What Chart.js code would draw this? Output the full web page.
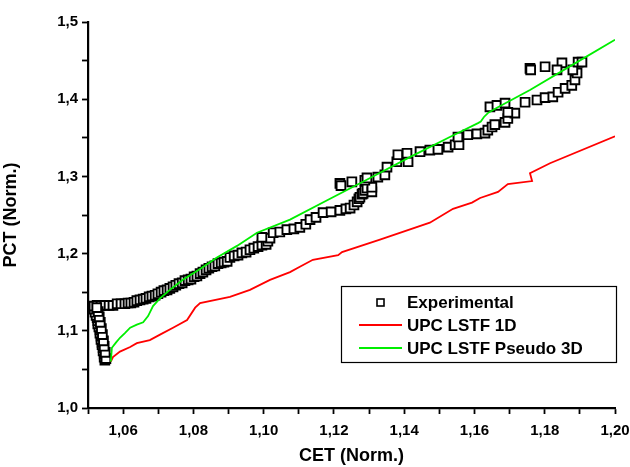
<!DOCTYPE html>
<html>
<head>
<meta charset="utf-8">
<title>PCT vs CET</title>
<script src="https://cdn.jsdelivr.net/npm/chart.js@4.4.1/dist/chart.umd.min.js"></script>
<style>
    html, body { margin: 0; padding: 0; background: #ffffff; }
    #chart-wrap { width: 630px; height: 467px; }
</style>
</head>
<body>
<div id="chart-wrap"><canvas id="pct-chart" width="630" height="467"></canvas></div>
<script>
// Experimental points (CET, PCT)
const expX = [
    1.0548, 1.0546, 1.0546, 1.0543, 1.0543, 1.0540, 1.0540, 1.0537, 1.0537, 1.0534,
    1.0534, 1.0531, 1.0528, 1.0528, 1.0526, 1.0523, 1.0520, 1.0517, 1.0517,
    1.0526, 1.0537, 1.0548, 1.0560, 1.0571, 1.0583, 1.0594, 1.0605, 1.0614, 1.0622,
    1.0631, 1.0639, 1.0648, 1.0657, 1.0665, 1.0674, 1.0682, 1.0691, 1.0699, 1.0708,
    1.0716, 1.0725, 1.0733, 1.0742, 1.0750, 1.0759, 1.0768, 1.0776, 1.0785, 1.0793,
    1.0802, 1.0810, 1.0819, 1.0827, 1.0836, 1.0844, 1.0853, 1.0861, 1.0870, 1.0879,
    1.0887, 1.0896, 1.0904, 1.0916, 1.0927, 1.0938, 1.0950, 1.0961, 1.0972, 1.0984,
    1.0995, 1.1007, 1.1012, 1.1018, 1.0995, 1.1027, 1.1046, 1.1066, 1.1086, 1.1103,
    1.1120, 1.1132, 1.1149, 1.1169, 1.1192, 1.1217, 1.1234, 1.1246, 1.1257, 1.1266,
    1.1271, 1.1274, 1.1280, 1.1283, 1.1288, 1.1294, 1.1308, 1.1308,
    1.1217, 1.1220, 1.1251, 1.1288, 1.1294, 1.1325, 1.1345, 1.1351, 1.1379, 1.1411,
    1.1382, 1.1408, 1.1445, 1.1473, 1.1496, 1.1525, 1.1545, 1.1556, 1.1553, 1.1581,
    1.1607, 1.1630, 1.1638, 1.1650, 1.1658, 1.1687, 1.1695, 1.1715, 1.1695, 1.1644,
    1.1664, 1.1687, 1.1744, 1.1778, 1.1801, 1.1823, 1.1838, 1.1858, 1.1877, 1.1886,
    1.1892, 1.1880, 1.1895, 1.1906, 1.1849, 1.1835, 1.1801, 1.1758, 1.1760,
    1.0551, 1.0549, 1.0546, 1.0544, 1.0541, 1.0538, 1.0535, 1.0532, 1.0529, 1.0525
];
const expY = [
    1.062, 1.066, 1.070, 1.074, 1.078, 1.082, 1.085, 1.089, 1.093, 1.097,
    1.101, 1.105, 1.109, 1.113, 1.117, 1.120, 1.124, 1.128, 1.132,
    1.133, 1.133, 1.133, 1.133, 1.133, 1.135, 1.135, 1.135, 1.136, 1.136,
    1.137, 1.139, 1.140, 1.141, 1.142, 1.144, 1.145, 1.146, 1.148, 1.150,
    1.152, 1.153, 1.155, 1.157, 1.159, 1.161, 1.162, 1.165, 1.166, 1.167,
    1.170, 1.171, 1.174, 1.176, 1.179, 1.181, 1.183, 1.184, 1.187, 1.188,
    1.189, 1.190, 1.195, 1.197, 1.198, 1.201, 1.202, 1.205, 1.207, 1.209,
    1.211, 1.212, 1.216, 1.220, 1.221, 1.227, 1.228, 1.231, 1.232, 1.234,
    1.238, 1.244, 1.247, 1.253, 1.254, 1.256, 1.258, 1.259, 1.263, 1.267,
    1.271, 1.273, 1.277, 1.278, 1.282, 1.285, 1.280, 1.286,
    1.291, 1.288, 1.293, 1.295, 1.298, 1.299, 1.302, 1.312, 1.319, 1.319,
    1.328, 1.330, 1.332, 1.334, 1.335, 1.338, 1.341, 1.341, 1.351, 1.354,
    1.355, 1.356, 1.360, 1.364, 1.367, 1.370, 1.375, 1.382, 1.383, 1.390,
    1.392, 1.395, 1.396, 1.399, 1.402, 1.403, 1.409, 1.414, 1.418, 1.425,
    1.434, 1.438, 1.448, 1.448, 1.447, 1.438, 1.442, 1.440, 1.438,
    1.064, 1.072, 1.080, 1.087, 1.095, 1.103, 1.111, 1.118, 1.125, 1.130
];

// UPC LSTF 1D calculation
const lstf1dX = [
    1.0565, 1.0571, 1.0591, 1.0620, 1.0639, 1.0676, 1.0705, 1.0742, 1.0782, 1.0805,
    1.0819, 1.0904, 1.0961, 1.1018, 1.1075, 1.1103, 1.1140, 1.1212, 1.1223, 1.1331,
    1.1473, 1.1539, 1.1593, 1.1616, 1.1667, 1.1695, 1.1764, 1.1758, 1.1815, 1.2000
];
const lstf1dY = [
    1.060, 1.066, 1.073, 1.079, 1.084, 1.088, 1.095, 1.104, 1.114, 1.130,
    1.136, 1.144, 1.153, 1.166, 1.176, 1.183, 1.192, 1.198, 1.202, 1.218,
    1.240, 1.258, 1.266, 1.272, 1.280, 1.290, 1.294, 1.304, 1.317, 1.352
];

// UPC LSTF Pseudo 3D calculation
const pseudo3dX = [
    1.0565, 1.0568, 1.0580, 1.0591, 1.0605, 1.0620, 1.0639, 1.0657, 1.0671, 1.0685,
    1.0705, 1.0733, 1.0770, 1.0819, 1.0867, 1.0924, 1.0981, 1.1075, 1.1189, 1.1303,
    1.1416, 1.1530, 1.1610, 1.1618, 1.1627, 1.1638, 1.1664, 1.1758, 1.1892, 1.2000
];
const pseudo3dY = [
    1.060, 1.078, 1.085, 1.091, 1.097, 1.104, 1.108, 1.111, 1.119, 1.132,
    1.142, 1.153, 1.166, 1.180, 1.195, 1.210, 1.227, 1.244, 1.271, 1.298,
    1.325, 1.351, 1.369, 1.371, 1.377, 1.382, 1.389, 1.412, 1.448, 1.477
];

const seriesLabels = ['Experimental', 'UPC LSTF 1D', 'UPC LSTF Pseudo 3D'];

const FONT = '"Liberation Sans", Arial, sans-serif';

/**
 * Zip two arrays into {x, y} points
 */
function toPoints(xs, ys) {
    return xs.map((x, i) => ({ x: x, y: ys[i] }));
}

/**
 * Format a number with a decimal comma
 */
function commaLabel(value, digits) {
    return value.toFixed(digits).replace('.', ',');
}

/**
 * Legend box drawn inside the plot, lower right
 */
const boxLegend = {
    id: 'boxLegend',
    afterDraw(chart) {
        const ctx = chart.ctx;
        const area = chart.chartArea;
        const left = area.right - 274;
        const top = area.bottom - 122;
        const width = 275;
        const height = 76;

        ctx.save();
        ctx.strokeStyle = '#000000';
        ctx.lineWidth = 1.2;
        ctx.strokeRect(left + 0.5, top + 0.5, width, height);

        ctx.font = 'bold 17px ' + FONT;
        ctx.textBaseline = 'middle';
        ctx.fillStyle = '#000000';

        chart.data.datasets.forEach((ds, i) => {
            const cy = top + 16 + i * 23;
            if (ds.showLine) {
                ctx.strokeStyle = ds.borderColor;
                ctx.lineWidth = ds.borderWidth;
                ctx.beginPath();
                ctx.moveTo(left + 18, cy);
                ctx.lineTo(left + 61, cy);
                ctx.stroke();
            } else {
                ctx.strokeStyle = ds.borderColor;
                ctx.lineWidth = 1.6;
                ctx.fillStyle = '#ffffff';
                ctx.fillRect(left + 36, cy - 3, 7, 7);
                ctx.strokeRect(left + 36, cy - 3, 7, 7);
                ctx.fillStyle = '#000000';
            }
            ctx.fillText(ds.label, left + 66, cy + 1);
        });
        ctx.restore();
    }
};

document.addEventListener('DOMContentLoaded', function() {
    const ctx = document.getElementById('pct-chart');

    new Chart(ctx, {
        type: 'scatter',
        data: {
            datasets: [
                {
                    label: seriesLabels[0],
                    data: toPoints(expX, expY),
                    showLine: false,
                    pointStyle: 'rect',
                    pointRadius: 6.2,
                    pointBorderWidth: 1.9,
                    borderColor: '#000000',
                    backgroundColor: '#ffffff',
                    order: 3
                },
                {
                    label: seriesLabels[1],
                    data: toPoints(lstf1dX, lstf1dY),
                    showLine: true,
                    pointRadius: 0,
                    borderColor: '#ff0000',
                    borderWidth: 1.8,
                    tension: 0,
                    order: 2
                },
                {
                    label: seriesLabels[2],
                    data: toPoints(pseudo3dX, pseudo3dY),
                    showLine: true,
                    pointRadius: 0,
                    borderColor: '#00ee00',
                    borderWidth: 1.8,
                    tension: 0,
                    order: 1
                }
            ]
        },
        options: {
            responsive: false,
            animation: false,
            devicePixelRatio: 1,
            layout: {
                padding: { top: 22, right: 0, left: 0, bottom: 0 }
            },
            plugins: {
                legend: { display: false },
                tooltip: { enabled: false }
            },
            scales: {
                x: {
                    type: 'linear',
                    min: 1.05,
                    max: 1.20,
                    afterFit: scale => {
                        scale.height = 59;
                        scale.paddingRight = 15;
                        scale.paddingLeft = 0;
                    },
                    ticks: {
                        stepSize: 0.01,
                        autoSkip: false,
                        maxRotation: 0,
                        padding: 8,
                        color: '#000000',
                        font: { family: FONT, size: 15, weight: 'bold' },
                        callback: value => {
                            const n = Math.round(value * 100);
                            return (n % 2 === 0) ? commaLabel(value, 2) : '';
                        }
                    },
                    grid: {
                        drawOnChartArea: false,
                        tickLength: 6,
                        tickColor: '#000000',
                        tickWidth: 1.8
                    },
                    border: { display: true, color: '#000000', width: 2.2 },
                    title: {
                        display: true,
                        text: 'CET (Norm.)',
                        color: '#000000',
                        font: { family: FONT, size: 18, weight: 'bold' },
                        padding: { top: 2, bottom: 0 }
                    }
                },
                y: {
                    type: 'linear',
                    min: 1.0,
                    max: 1.5,
                    afterFit: scale => { scale.width = 88; },
                    ticks: {
                        stepSize: 0.05,
                        autoSkip: false,
                        padding: 4,
                        color: '#000000',
                        font: { family: FONT, size: 15, weight: 'bold' },
                        callback: value => {
                            const n = Math.round(value * 100);
                            return (n % 10 === 0) ? commaLabel(value, 1) : '';
                        }
                    },
                    grid: {
                        drawOnChartArea: false,
                        tickLength: 6,
                        tickColor: '#000000',
                        tickWidth: 1.8
                    },
                    border: { display: true, color: '#000000', width: 2.2 },
                    title: {
                        display: true,
                        text: 'PCT (Norm.)',
                        color: '#000000',
                        font: { family: FONT, size: 18, weight: 'bold' },
                        padding: { top: 0, bottom: 4 }
                    }
                }
            }
        },
        plugins: [boxLegend]
    });
});
</script>
</body>
</html>
